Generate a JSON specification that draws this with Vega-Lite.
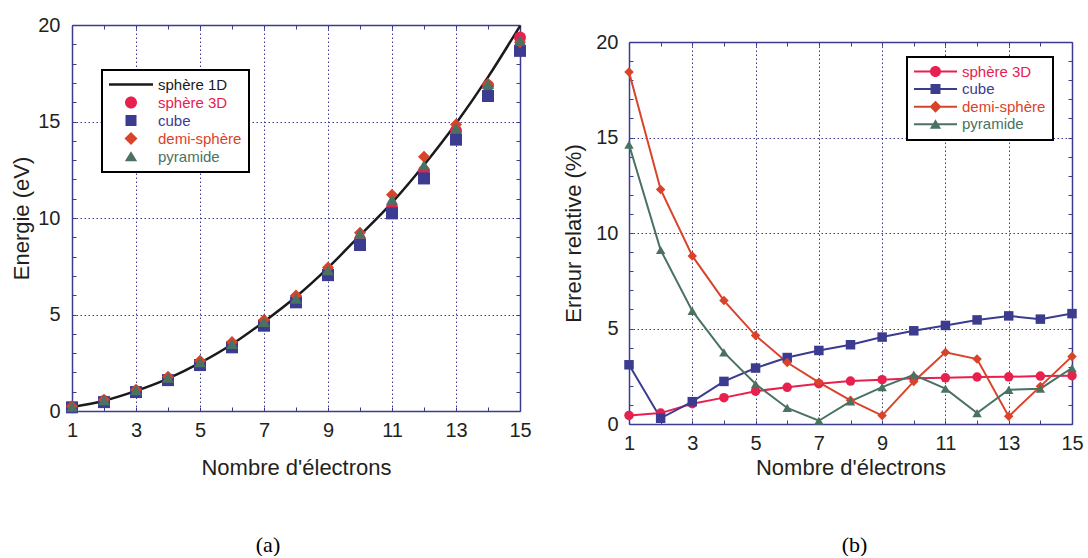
{
  "$schema": "https://vega.github.io/schema/vega-lite/v6.json",
  "background": "white",
  "padding": {"left": 10, "top": 15, "right": 0, "bottom": 0},
  "autosize": {"type": "pad"},
  "datasets": {
    "energy": [
      {"n": 1, "serie": "sphère 1D", "E": 0.2}, {"n": 2, "serie": "sphère 1D", "E": 0.53}, {"n": 3, "serie": "sphère 1D", "E": 1.04}, {"n": 4, "serie": "sphère 1D", "E": 1.68}, {"n": 5, "serie": "sphère 1D", "E": 2.49}, {"n": 6, "serie": "sphère 1D", "E": 3.46}, {"n": 7, "serie": "sphère 1D", "E": 4.63}, {"n": 8, "serie": "sphère 1D", "E": 5.92}, {"n": 9, "serie": "sphère 1D", "E": 7.42}, {"n": 10, "serie": "sphère 1D", "E": 9.1}, {"n": 11, "serie": "sphère 1D", "E": 10.8}, {"n": 12, "serie": "sphère 1D", "E": 12.75}, {"n": 13, "serie": "sphère 1D", "E": 14.9}, {"n": 14, "serie": "sphère 1D", "E": 17.3}, {"n": 15, "serie": "sphère 1D", "E": 19.95},
      {"n": 1, "serie": "sphère 3D", "E": 0.2}, {"n": 2, "serie": "sphère 3D", "E": 0.52}, {"n": 3, "serie": "sphère 3D", "E": 1.02}, {"n": 4, "serie": "sphère 3D", "E": 1.64}, {"n": 5, "serie": "sphère 3D", "E": 2.44}, {"n": 6, "serie": "sphère 3D", "E": 3.38}, {"n": 7, "serie": "sphère 3D", "E": 4.52}, {"n": 8, "serie": "sphère 3D", "E": 5.77}, {"n": 9, "serie": "sphère 3D", "E": 7.23}, {"n": 10, "serie": "sphère 3D", "E": 8.88}, {"n": 11, "serie": "sphère 3D", "E": 10.54}, {"n": 12, "serie": "sphère 3D", "E": 12.44}, {"n": 13, "serie": "sphère 3D", "E": 14.52}, {"n": 14, "serie": "sphère 3D", "E": 16.85}, {"n": 15, "serie": "sphère 3D", "E": 19.35},
      {"n": 1, "serie": "cube", "E": 0.19}, {"n": 2, "serie": "cube", "E": 0.46}, {"n": 3, "serie": "cube", "E": 0.98}, {"n": 4, "serie": "cube", "E": 1.6}, {"n": 5, "serie": "cube", "E": 2.38}, {"n": 6, "serie": "cube", "E": 3.3}, {"n": 7, "serie": "cube", "E": 4.42}, {"n": 8, "serie": "cube", "E": 5.63}, {"n": 9, "serie": "cube", "E": 7.04}, {"n": 10, "serie": "cube", "E": 8.6}, {"n": 11, "serie": "cube", "E": 10.24}, {"n": 12, "serie": "cube", "E": 12.05}, {"n": 13, "serie": "cube", "E": 14.06}, {"n": 14, "serie": "cube", "E": 16.32}, {"n": 15, "serie": "cube", "E": 18.66},
      {"n": 1, "serie": "demi-sphère", "E": 0.24}, {"n": 2, "serie": "demi-sphère", "E": 0.58}, {"n": 3, "serie": "demi-sphère", "E": 1.1}, {"n": 4, "serie": "demi-sphère", "E": 1.78}, {"n": 5, "serie": "demi-sphère", "E": 2.6}, {"n": 6, "serie": "demi-sphère", "E": 3.58}, {"n": 7, "serie": "demi-sphère", "E": 4.72}, {"n": 8, "serie": "demi-sphère", "E": 5.98}, {"n": 9, "serie": "demi-sphère", "E": 7.43}, {"n": 10, "serie": "demi-sphère", "E": 9.24}, {"n": 11, "serie": "demi-sphère", "E": 11.2}, {"n": 12, "serie": "demi-sphère", "E": 13.18}, {"n": 13, "serie": "demi-sphère", "E": 14.85}, {"n": 14, "serie": "demi-sphère", "E": 16.95}, {"n": 15, "serie": "demi-sphère", "E": 19.1},
      {"n": 1, "serie": "pyramide", "E": 0.23}, {"n": 2, "serie": "pyramide", "E": 0.57}, {"n": 3, "serie": "pyramide", "E": 1.09}, {"n": 4, "serie": "pyramide", "E": 1.73}, {"n": 5, "serie": "pyramide", "E": 2.53}, {"n": 6, "serie": "pyramide", "E": 3.48}, {"n": 7, "serie": "pyramide", "E": 4.62}, {"n": 8, "serie": "pyramide", "E": 5.83}, {"n": 9, "serie": "pyramide", "E": 7.3}, {"n": 10, "serie": "pyramide", "E": 9.2}, {"n": 11, "serie": "pyramide", "E": 10.96}, {"n": 12, "serie": "pyramide", "E": 12.74}, {"n": 13, "serie": "pyramide", "E": 14.65}, {"n": 14, "serie": "pyramide", "E": 16.95}, {"n": 15, "serie": "pyramide", "E": 19.2}
    ],
    "erreur": [
      {"n": 1, "serie": "sphère 3D", "err": 0.45}, {"n": 2, "serie": "sphère 3D", "err": 0.57}, {"n": 3, "serie": "sphère 3D", "err": 1.06}, {"n": 4, "serie": "sphère 3D", "err": 1.38}, {"n": 5, "serie": "sphère 3D", "err": 1.72}, {"n": 6, "serie": "sphère 3D", "err": 1.92}, {"n": 7, "serie": "sphère 3D", "err": 2.11}, {"n": 8, "serie": "sphère 3D", "err": 2.25}, {"n": 9, "serie": "sphère 3D", "err": 2.32}, {"n": 10, "serie": "sphère 3D", "err": 2.39}, {"n": 11, "serie": "sphère 3D", "err": 2.42}, {"n": 12, "serie": "sphère 3D", "err": 2.46}, {"n": 13, "serie": "sphère 3D", "err": 2.47}, {"n": 14, "serie": "sphère 3D", "err": 2.51}, {"n": 15, "serie": "sphère 3D", "err": 2.53},
      {"n": 1, "serie": "cube", "err": 3.1}, {"n": 2, "serie": "cube", "err": 0.3}, {"n": 3, "serie": "cube", "err": 1.17}, {"n": 4, "serie": "cube", "err": 2.23}, {"n": 5, "serie": "cube", "err": 2.93}, {"n": 6, "serie": "cube", "err": 3.48}, {"n": 7, "serie": "cube", "err": 3.85}, {"n": 8, "serie": "cube", "err": 4.15}, {"n": 9, "serie": "cube", "err": 4.55}, {"n": 10, "serie": "cube", "err": 4.88}, {"n": 11, "serie": "cube", "err": 5.16}, {"n": 12, "serie": "cube", "err": 5.45}, {"n": 13, "serie": "cube", "err": 5.66}, {"n": 14, "serie": "cube", "err": 5.49}, {"n": 15, "serie": "cube", "err": 5.78},
      {"n": 1, "serie": "demi-sphère", "err": 18.43}, {"n": 2, "serie": "demi-sphère", "err": 12.28}, {"n": 3, "serie": "demi-sphère", "err": 8.8}, {"n": 4, "serie": "demi-sphère", "err": 6.46}, {"n": 5, "serie": "demi-sphère", "err": 4.63}, {"n": 6, "serie": "demi-sphère", "err": 3.22}, {"n": 7, "serie": "demi-sphère", "err": 2.18}, {"n": 8, "serie": "demi-sphère", "err": 1.24}, {"n": 9, "serie": "demi-sphère", "err": 0.44}, {"n": 10, "serie": "demi-sphère", "err": 2.23}, {"n": 11, "serie": "demi-sphère", "err": 3.75}, {"n": 12, "serie": "demi-sphère", "err": 3.4}, {"n": 13, "serie": "demi-sphère", "err": 0.4}, {"n": 14, "serie": "demi-sphère", "err": 1.97}, {"n": 15, "serie": "demi-sphère", "err": 3.54},
      {"n": 1, "serie": "pyramide", "err": 14.63}, {"n": 2, "serie": "pyramide", "err": 9.11}, {"n": 3, "serie": "pyramide", "err": 5.92}, {"n": 4, "serie": "pyramide", "err": 3.75}, {"n": 5, "serie": "pyramide", "err": 2.09}, {"n": 6, "serie": "pyramide", "err": 0.84}, {"n": 7, "serie": "pyramide", "err": 0.17}, {"n": 8, "serie": "pyramide", "err": 1.18}, {"n": 9, "serie": "pyramide", "err": 1.93}, {"n": 10, "serie": "pyramide", "err": 2.58}, {"n": 11, "serie": "pyramide", "err": 1.85}, {"n": 12, "serie": "pyramide", "err": 0.57}, {"n": 13, "serie": "pyramide", "err": 1.79}, {"n": 14, "serie": "pyramide", "err": 1.85}, {"n": 15, "serie": "pyramide", "err": 2.93}
    ]
  },
  "hconcat": [
    {
      "width": 448,
      "height": 386,
      "title": {"text": "(a)", "orient": "bottom", "anchor": "middle", "frame": "group", "dx": -28, "offset": 57, "font": "Liberation Serif", "fontSize": 22, "fontWeight": "normal", "color": "#000000"},
      "data": {"name": "energy"},
      "layer": [
        {
          "transform": [{"filter": "datum.serie === 'sphère 1D'"}],
          "mark": {"type": "line", "color": "#1a1a1a", "strokeWidth": 2.5, "interpolate": "monotone"},
          "encoding": {
            "x": {"field": "n", "type": "quantitative", "scale": {"domain": [1, 15], "nice": false, "zero": false},
              "axis": {"orient": "bottom", "values": [1,2,3,4,5,6,7,8,9,10,11,12,13,14,15], "grid": true,
                "gridOpacity": {"condition": {"test": "datum.value % 2 == 0 || datum.value == 1 || datum.value == 15", "value": 0}, "value": 1},
                "labelExpr": "datum.value % 2 == 1 ? datum.label : ''", "labelPadding": 13, "title": "Nombre d'électrons", "titlePadding": 17}},
            "y": {"field": "E", "type": "quantitative", "scale": {"domain": [0, 20], "nice": false, "zero": false},
              "axis": {"orient": "left", "values": [0,1,2,3,4,5,6,7,8,9,10,11,12,13,14,15,16,17,18,19,20], "grid": true,
                "gridOpacity": {"condition": {"test": "datum.value % 5 != 0 || datum.value == 0 || datum.value == 20", "value": 0}, "value": 1},
                "labelExpr": "datum.value % 5 == 0 ? datum.label : ''", "labelPadding": 16, "title": "Energie (eV)", "titlePadding": 4}}
          }
        },
        {
          "transform": [{"filter": "datum.serie !== 'sphère 1D'"}],
          "mark": {"type": "point", "filled": true, "opacity": 1, "size": 144},
          "encoding": {
            "x": {"field": "n", "type": "quantitative", "scale": {"domain": [1, 15], "nice": false, "zero": false},
              "axis": {"orient": "top", "values": [1,2,3,4,5,6,7,8,9,10,11,12,13,14,15], "labels": false, "grid": false, "title": null}},
            "y": {"field": "E", "type": "quantitative", "scale": {"domain": [0, 20], "nice": false, "zero": false},
              "axis": {"orient": "right", "values": [0,1,2,3,4,5,6,7,8,9,10,11,12,13,14,15,16,17,18,19,20], "labels": false, "grid": false, "title": null}},
            "color": {"field": "serie", "type": "nominal", "legend": null,
              "scale": {"domain": ["sphère 3D", "cube", "demi-sphère", "pyramide"], "range": ["#e8204e", "#3b3b8f", "#d9432a", "#4a7262"]}},
            "shape": {"field": "serie", "type": "nominal", "legend": null,
              "scale": {"domain": ["sphère 3D", "cube", "demi-sphère", "pyramide"], "range": ["circle", "square", "diamond", "triangle-up"]}}
          }
        },
        {
          "transform": [{"filter": "false"}],
          "mark": {"type": "point", "filled": true, "opacity": 1, "size": 1936},
          "encoding": {
            "x": {"field": "n", "type": "quantitative", "axis": null},
            "y": {"field": "E", "type": "quantitative", "axis": null},
            "color": {"field": "serie", "type": "nominal",
              "scale": {"domain": ["sphère 1D", "sphère 3D", "cube", "demi-sphère", "pyramide"], "range": ["#1a1a1a", "#e8204e", "#3b3b8f", "#d9432a", "#4a7262"]},
              "legend": {"title": null, "orient": "none", "legendX": 30, "legendY": 45, "symbolSize": 1936, "symbolStrokeWidth": 0, "symbolOpacity": 1,
                "clipHeight": 15,
                "labelFont": "Liberation Sans", "labelFontSize": 15, "labelOffset": 5, "padding": 7, "rowPadding": 2,
                "strokeColor": "#000000", "fillColor": "#ffffff",
                "encode": {"legend": {"update": {"strokeWidth": {"value": 2}}},
                  "labels": {"update": {"fill": {"signal": "datum.value === 'sphère 3D' ? '#e8204e' : datum.value === 'cube' ? '#3b3b8f' : datum.value === 'demi-sphère' ? '#d9432a' : datum.value === 'pyramide' ? '#4a7262' : '#1a1a1a'"}}}}}},
            "shape": {"field": "serie", "type": "nominal",
              "scale": {"domain": ["sphère 1D", "sphère 3D", "cube", "demi-sphère", "pyramide"],
                "range": ["M-1,-0.055H1V0.055H-1Z", "M0.273,0A0.273,0.273,0,1,1,-0.273,0A0.273,0.273,0,1,1,0.273,0Z", "M-0.25,-0.25H0.25V0.25H-0.25Z", "M0,-0.295L0.295,0L0,0.295L-0.295,0Z", "M0,-0.24L0.28,0.22L-0.28,0.22Z"]}}
          }
        }
      ],
      "resolve": {"axis": {"x": "independent", "y": "independent"}, "scale": {"color": "independent", "shape": "independent"}}
    },
    {
      "spacing": 6,
      "vconcat": [
        {
          "width": 1,
          "height": 1,
          "data": {"values": []},
          "mark": {"type": "point", "opacity": 0},
          "encoding": {}
        },
        {
          "width": 443,
          "height": 382,
          "title": {"text": "(b)", "orient": "bottom", "anchor": "middle", "frame": "group", "dx": 4, "offset": 57, "font": "Liberation Serif", "fontSize": 22, "fontWeight": "normal", "color": "#000000"},
          "data": {"name": "erreur"},
          "layer": [
            {
              "mark": {"type": "line", "strokeWidth": 2},
              "encoding": {
                "x": {"field": "n", "type": "quantitative", "scale": {"domain": [1, 15], "nice": false, "zero": false},
                  "axis": {"orient": "bottom", "values": [1,2,3,4,5,6,7,8,9,10,11,12,13,14,15], "grid": true,
                    "gridOpacity": {"condition": {"test": "datum.value % 2 == 0 || datum.value == 1 || datum.value == 15", "value": 0}, "value": 1},
                    "labelExpr": "datum.value % 2 == 1 ? datum.label : ''", "labelPadding": 13, "title": "Nombre d'électrons", "titlePadding": 4}},
                "y": {"field": "err", "type": "quantitative", "scale": {"domain": [0, 20], "nice": false, "zero": false},
                  "axis": {"orient": "left", "values": [0,1,2,3,4,5,6,7,8,9,10,11,12,13,14,15,16,17,18,19,20], "grid": true,
                    "gridOpacity": {"condition": {"test": "datum.value % 5 != 0 || datum.value == 0 || datum.value == 20", "value": 0}, "value": 1},
                    "labelExpr": "datum.value % 5 == 0 ? datum.label : ''", "labelPadding": 15, "title": "Erreur relative (%)", "titlePadding": 10}},
                "color": {"field": "serie", "type": "nominal", "legend": null,
                  "scale": {"domain": ["sphère 3D", "cube", "demi-sphère", "pyramide"], "range": ["#e8204e", "#3b3b8f", "#d9432a", "#4a7262"]}}
              }
            },
            {
              "mark": {"type": "point", "filled": true, "opacity": 1, "size": 90},
              "encoding": {
                "x": {"field": "n", "type": "quantitative", "scale": {"domain": [1, 15], "nice": false, "zero": false},
                  "axis": {"orient": "top", "values": [1,2,3,4,5,6,7,8,9,10,11,12,13,14,15], "labels": false, "grid": false, "title": null}},
                "y": {"field": "err", "type": "quantitative", "scale": {"domain": [0, 20], "nice": false, "zero": false},
                  "axis": {"orient": "right", "values": [0,1,2,3,4,5,6,7,8,9,10,11,12,13,14,15,16,17,18,19,20], "labels": false, "grid": false, "title": null}},
                "color": {"field": "serie", "type": "nominal", "legend": null,
                  "scale": {"domain": ["sphère 3D", "cube", "demi-sphère", "pyramide"], "range": ["#e8204e", "#3b3b8f", "#d9432a", "#4a7262"]}},
                "shape": {"field": "serie", "type": "nominal", "legend": null,
                  "scale": {"domain": ["sphère 3D", "cube", "demi-sphère", "pyramide"], "range": ["circle", "square", "diamond", "triangle-up"]}}
              }
            },
            {
              "transform": [{"filter": "false"}],
              "mark": {"type": "point", "filled": true, "opacity": 1, "size": 1849},
              "encoding": {
                "x": {"field": "n", "type": "quantitative", "axis": null},
                "y": {"field": "err", "type": "quantitative", "axis": null},
                "color": {"field": "serie", "type": "nominal",
                  "scale": {"domain": ["sphère 3D", "cube", "demi-sphère", "pyramide"], "range": ["#e8204e", "#3b3b8f", "#d9432a", "#4a7262"]},
                  "legend": {"title": null, "orient": "none", "legendX": 278, "legendY": 15, "symbolSize": 1849, "symbolStrokeWidth": 0, "symbolOpacity": 1,
                    "clipHeight": 15,
                    "labelFont": "Liberation Sans", "labelFontSize": 15, "labelOffset": 5, "padding": 7, "rowPadding": 1.6,
                    "strokeColor": "#000000", "fillColor": "#ffffff",
                    "encode": {"legend": {"update": {"strokeWidth": {"value": 2}}},
                      "labels": {"update": {"fill": {"signal": "datum.value === 'sphère 3D' ? '#e8204e' : datum.value === 'cube' ? '#3b3b8f' : datum.value === 'demi-sphère' ? '#d9432a' : datum.value === 'pyramide' ? '#4a7262' : '#1a1a1a'"}}}}}},
                "shape": {"field": "serie", "type": "nominal",
                  "scale": {"domain": ["sphère 3D", "cube", "demi-sphère", "pyramide"],
                    "range": ["M-1,-0.047H1V0.047H-1Z M0.256,0A0.256,0.256,0,1,1,-0.256,0A0.256,0.256,0,1,1,0.256,0Z", "M-1,-0.047H1V0.047H-1Z M-0.233,-0.233H0.233V0.233H-0.233Z", "M-1,-0.047H1V0.047H-1Z M0,-0.28L0.28,0L0,0.28L-0.28,0Z", "M-1,-0.047H1V0.047H-1Z M0,-0.23L0.26,0.21L-0.26,0.21Z"]}}
              }
            }
          ],
          "resolve": {"axis": {"x": "independent", "y": "independent"}, "scale": {"color": "independent", "shape": "independent"}}
        }
      ]
    }
  ],
  "spacing": 30,
  "align": "none",
  "config": {
    "font": "Liberation Sans",
    "view": {"stroke": null},
    "axis": {
      "domainColor": "#3b3b8f", "domainWidth": 1.5, "tickColor": "#3b3b8f", "tickWidth": 1, "tickSize": -4,
      "gridColor": "#3b3b8f", "gridDash": [1.5, 2.5], "gridWidth": 1,
      "labelFont": "Liberation Sans", "labelFontSize": 20, "labelColor": "#231f20",
      "titleFont": "Liberation Sans", "titleFontSize": 22, "titleFontWeight": "normal", "titleColor": "#231f20",
      "labelOverlap": false, "labelFlush": false, "labelBound": false
    }
  }
}
